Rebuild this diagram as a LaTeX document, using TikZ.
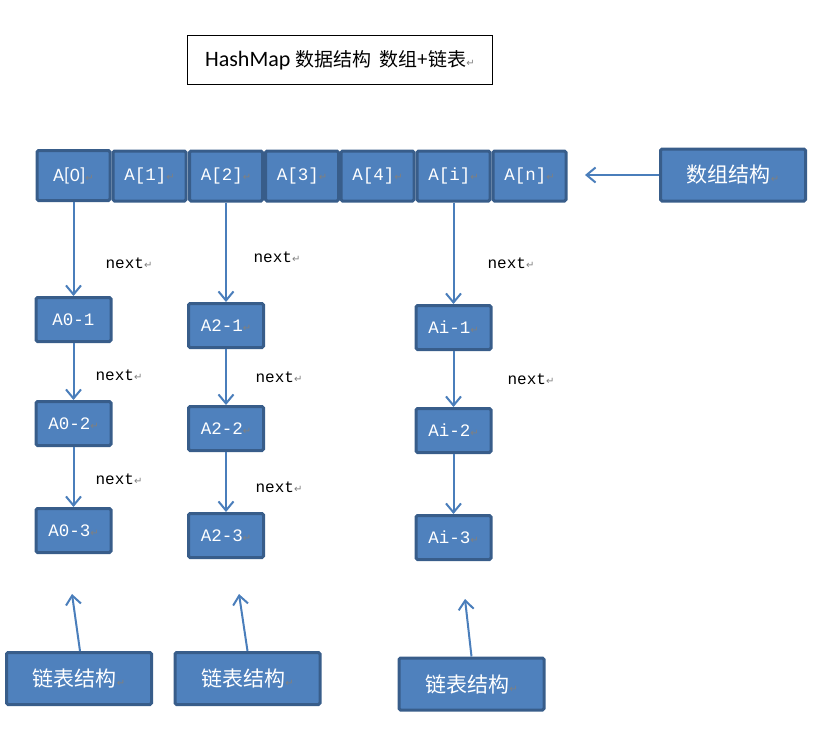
\documentclass[tikz,border=0pt]{standalone}
\usepackage{fontspec}
\usetikzlibrary{arrows.meta}
\setmainfont{Liberation Mono}
\newfontfamily\cjk{Noto Sans CJK SC}
\newfontfamily\calib{Carlito}
\newfontfamily\markfont{DejaVu Sans}
\definecolor{boxfill}{HTML}{4F81BD}
\definecolor{boxline}{HTML}{385D8A}
\definecolor{linkblue}{HTML}{4A7EBB}
\newcommand{\retmark}{{\markfont\fontsize{10}{10}\selectfont\textcolor{gray}{↵}}}
\newcommand{\chain}[4]{\node[chainbox] (#1) at (#2,#3) {#4};}
\tikzset{
	cellbox/.style={draw=boxline, line width=3pt, fill=boxfill, rounded corners=1.5pt,
		text=white, inner sep=0pt, minimum width=73pt, minimum height=50pt,
		font=\fontsize{17.5}{20}\selectfont},
	chainbox/.style={cellbox, minimum width=75pt, minimum height=44pt},
	labelbox/.style={cellbox, minimum width=145pt, minimum height=52pt,
		font=\cjk\fontsize{21}{24}\selectfont},
	link/.style={draw=linkblue, line width=2pt,
		-{Straight Barb[length=9pt,width=15pt,line width=2pt]}},
	nextlbl/.style={inner sep=0pt, font=\fontsize{16}{18}\selectfont}
}

\begin{document}
\begin{tikzpicture}[x=1pt,y=-1pt]
	\useasboundingbox (0,0) rectangle (823,742);
	% title
	\node[draw, line width=0.8pt, minimum width=305pt, minimum height=49pt] (title) at (340,60)
		{\calib\fontsize{22}{24}\selectfont HashMap {\cjk\fontsize{19}{24}\selectfont 数据结构\ \ 数组+链表}\retmark};
	% array
	\foreach \n/\x/\t in {a1/149.5/A[1], a3/302/A[3], a4/377.5/A[4], an/529.5/A[n], a2/226/A[2], ai/453.5/A[i]} {
		\node[cellbox] (\n) at (\x,176) {\t\retmark};
	}
	\node[cellbox, font=\calib\fontsize{19}{20}\selectfont] (a0) at (73.5,175.5) {A[0]\retmark};
	\node[labelbox] (arr) at (733,175) {数组结构\retmark};
	\coordinate (arrtip) at (585,175);
	\draw[link] (arr) -- (arrtip);
	% lists
	\chain{a01}{73.5}{319.5}{A0-1}
	\chain{a02}{73.5}{423.5}{A0-2\retmark}
	\chain{a03}{73.5}{530.5}{A0-3\retmark}
	\chain{a21}{226}{325.5}{A2-1\retmark}
	\chain{a22}{226}{428.5}{A2-2\retmark}
	\chain{a23}{226}{535.5}{A2-3\retmark}
	\chain{ai1}{453.5}{327.5}{Ai-1\retmark}
	\chain{ai2}{453.5}{430.5}{Ai-2\retmark}
	\chain{ai3}{453.5}{537.5}{Ai-3\retmark}
	\foreach \c in {0,2,i} {
		\draw[link] (a\c) -- (a\c1);
		\draw[link] (a\c1) -- (a\c2);
		\draw[link] (a\c2) -- (a\c3);
	}
	\foreach \n/\x/\y in {n01/129/263, n02/119/375, n03/119/479, n21/277/257, n22/279/377, n23/279/487, ni1/511/263, ni2/531/379} {
		\node[nextlbl] (\n) at (\x,\y) {next\retmark};
	}
	% labels below
	\node[labelbox] (l0) at (79,678.5) {链表结构\retmark};
	\node[labelbox] (l2) at (247.5,678.5) {链表结构\retmark};
	\node[labelbox] (li) at (471.5,684) {链表结构\retmark};
	\coordinate (t0) at (72,594);
	\coordinate (t2) at (239,594);
	\coordinate (ti) at (465,599);
	\draw[link] ([xshift=1pt]l0.north) -- (t0);
	\draw[link] (l2.north) -- (t2);
	\draw[link] (li.north) -- (ti);
\end{tikzpicture}
\end{document}
